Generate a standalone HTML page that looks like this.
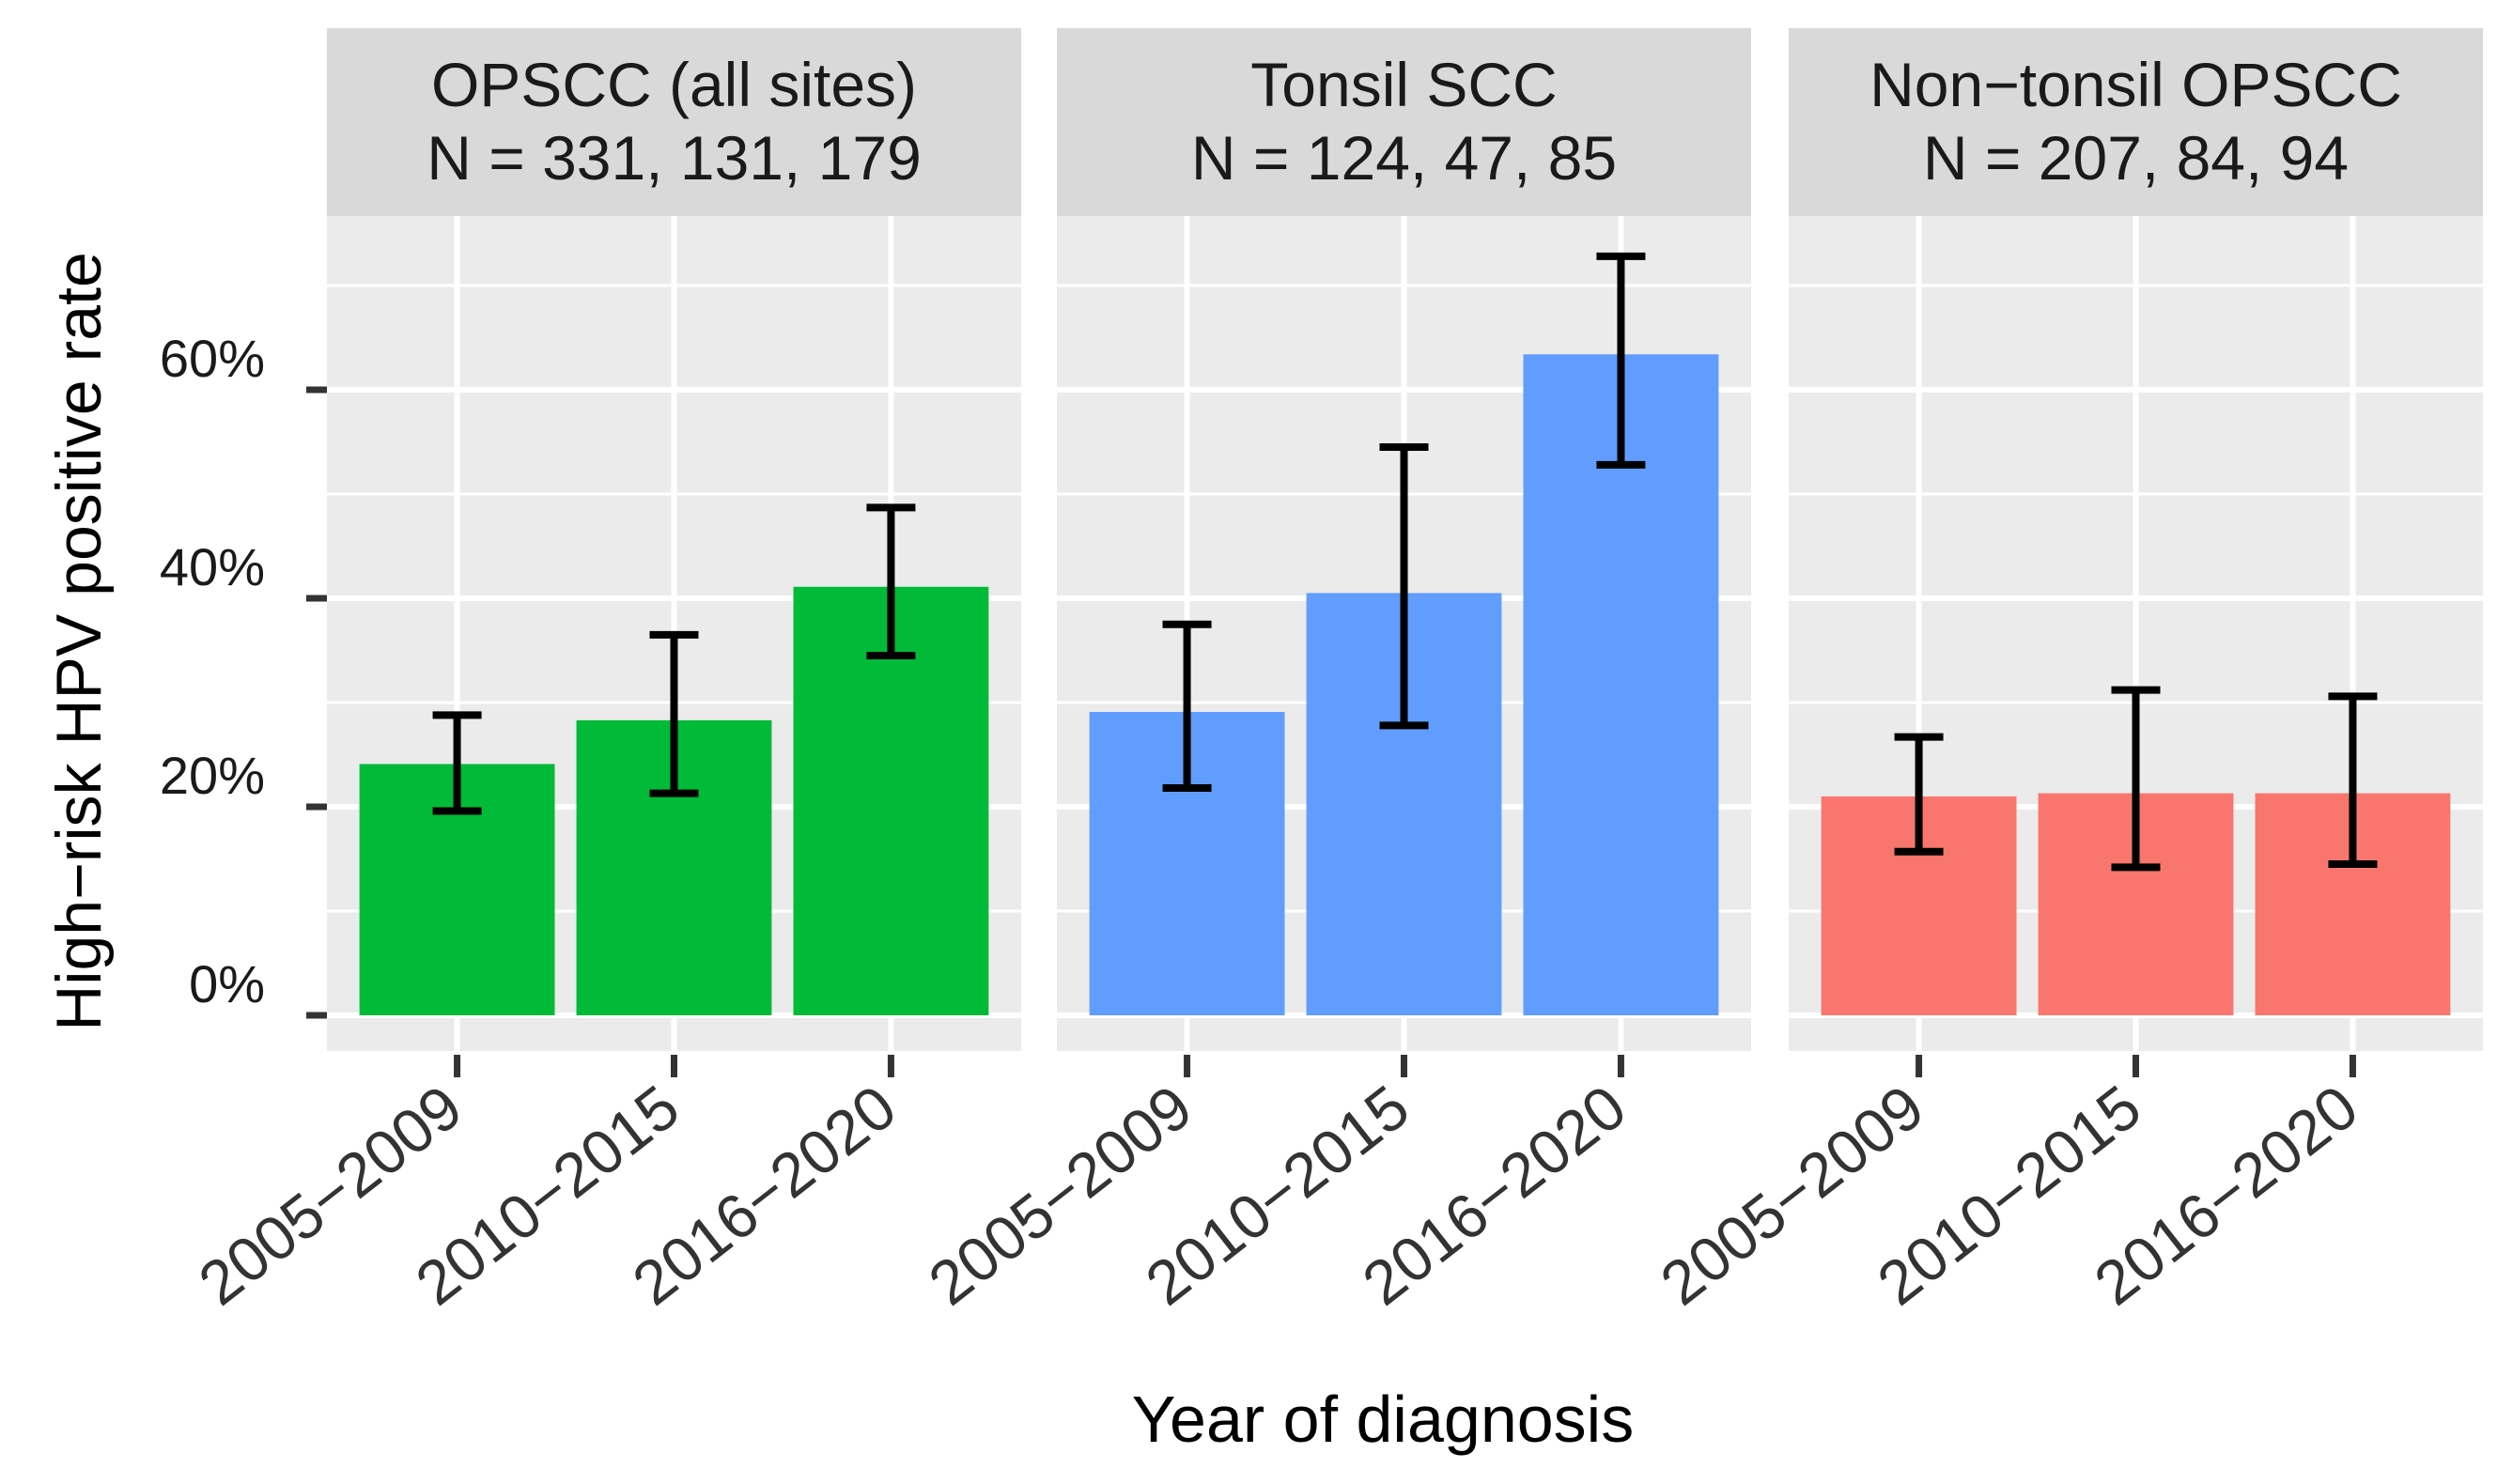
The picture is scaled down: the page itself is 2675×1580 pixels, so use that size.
<!DOCTYPE html>
<html><head><meta charset="utf-8"><style>
html,body{margin:0;padding:0;background:#fff;}
svg{display:block;font-family:"Liberation Sans",Arial,sans-serif;}
</style></head><body>
<svg id="chart" width="2675" height="1580" viewBox="0 0 2675 1580" xmlns="http://www.w3.org/2000/svg">
<text transform="translate(107,683) rotate(-90)" text-anchor="middle" font-size="68" fill="#000">High−risk HPV positive rate</text>
<text x="1472" y="1535" text-anchor="middle" font-size="70" fill="#000">Year of diagnosis</text>
<g id="plot"></g>
</svg>
<script>
const panelTitles = ["OPSCC (all sites)", "Tonsil SCC", "Non−tonsil OPSCC"];
const panelNs = ["N = 331, 131, 179", "N = 124, 47, 85", "N = 207, 84, 94"];
const panelColors = ["#00BA38", "#619CFF", "#F8766D"];
const categories = ["2005−2009", "2010−2015", "2016−2020"];
const rates = [[24.1, 28.3, 41.1], [29.1, 40.5, 63.4], [21.0, 21.3, 21.3]];
const lowers = [[19.6, 21.3, 34.5], [21.8, 27.8, 52.8], [15.7, 14.2, 14.5]];
const uppers = [[28.8, 36.5, 48.7], [37.5, 54.5, 72.8], [26.7, 31.2, 30.6]];
const yTicks = [0, 20, 40, 60];
const yTickLabels = ["0%", "20%", "40%", "60%"];
const yMinor = [10, 30, 50, 70];

const NS = "http://www.w3.org/2000/svg";
const g = document.getElementById("plot");
const panelLefts = [348, 1125, 1904];
const panelW = 739, panelTop = 230, panelBottom = 1119, stripTop = 30;
const y0 = 1081, pxPer = 11.1;
function yScale(v){ return y0 - v * pxPer; }
function xScale(p, i){ const step = panelW / 3.2; return panelLefts[p] + step * (0.6 + i); }
function mk(tag, attrs, parent){ const e = document.createElementNS(NS, tag); for (const k in attrs) e.setAttribute(k, attrs[k]); (parent||g).appendChild(e); return e; }

panelTitles.forEach((t, p) => {
  const L = panelLefts[p];
  const strip = mk("rect", {x:L, y:stripTop, width:panelW, height:panelTop-stripTop, fill:"#d9d9d9"});
  
  
  const t1 = mk("text", {x:L+panelW/2, y:113, "text-anchor":"middle", "font-size":"66", fill:"#1a1a1a"});
  t1.textContent = t;
  
  
  const t2 = mk("text", {x:L+panelW/2, y:191, "text-anchor":"middle", "font-size":"66", fill:"#1a1a1a"});
  t2.textContent = panelNs[p];
  
  
  const bg = mk("rect", {x:L, y:panelTop, width:panelW, height:panelBottom-panelTop, fill:"#ebebeb"});
  
  
  yMinor.forEach(v => {
    const l = mk("line", {x1:L, x2:L+panelW, y1:yScale(v), y2:yScale(v), stroke:"#fff", "stroke-width":"3"});
    
    
  });
  yTicks.forEach(v => {
    const l = mk("line", {x1:L, x2:L+panelW, y1:yScale(v), y2:yScale(v), stroke:"#fff", "stroke-width":"6"});
    
    
  });
  categories.forEach((c, i) => {
    const cx = xScale(p, i);
    const vl = mk("line", {x1:cx, x2:cx, y1:panelTop, y2:panelBottom, stroke:"#fff", "stroke-width":"6"});
    
    
  });
  categories.forEach((c, i) => {
    const cx = xScale(p, i), bw = 0.9 * panelW / 3.2;
    const bar = mk("rect", {x:cx-bw/2, y:yScale(rates[p][i]), width:bw, height:y0-yScale(rates[p][i]), fill:panelColors[p]});
    
    
    const eg = mk("g", {stroke:"#000", "stroke-width":"8", fill:"none"});
    
    
    mk("line", {x1:cx, x2:cx, y1:yScale(uppers[p][i]), y2:yScale(lowers[p][i])}, eg);
    mk("line", {x1:cx-26, x2:cx+26, y1:yScale(uppers[p][i]), y2:yScale(uppers[p][i])}, eg);
    mk("line", {x1:cx-26, x2:cx+26, y1:yScale(lowers[p][i]), y2:yScale(lowers[p][i])}, eg);
    const tk = mk("line", {x1:cx, x2:cx, y1:panelBottom+4, y2:panelBottom+28, stroke:"#333", "stroke-width":"7"});
    
    
    const ax = cx + 10, ay = 1188;
    const lab = mk("text", {x:ax, y:ay, "text-anchor":"end", "font-size":"66", fill:"#333", transform:`rotate(-38 ${ax} ${ay})`});
    lab.textContent = c;
    
    
  });
});
yTicks.forEach((v, k) => {
  const tk = mk("line", {x1:326, x2:348, y1:yScale(v), y2:yScale(v), stroke:"#333", "stroke-width":"7"});
  
  
  const lab = mk("text", {x:282, y:yScale(v)-14, "text-anchor":"end", "font-size":"56", fill:"#1a1a1a"});
  lab.textContent = yTickLabels[k];
  
  
});
</script>
</body></html>
